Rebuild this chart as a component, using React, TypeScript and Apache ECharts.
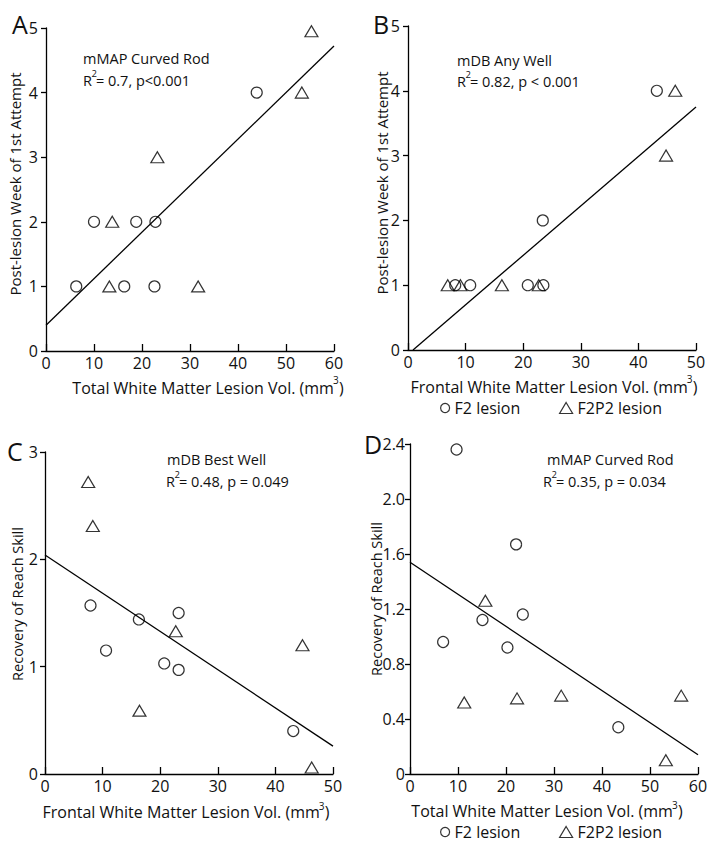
import React, { useEffect, useRef } from "react";
import * as echarts from "echarts";

// ---- Data ----
// Panel A: Total WM lesion vol vs post-lesion week of 1st attempt (mMAP Curved Rod)
const aF2 = [[6.3, 1], [10.0, 2], [16.3, 1], [18.8, 2], [22.8, 2], [22.6, 1], [43.9, 4]];
const aF2P2 = [[13.2, 1], [13.8, 2], [23.2, 3], [31.7, 1], [53.3, 4], [55.3, 4.95]];
const aFit = [[0, 0.4], [60, 4.72]];
// Panel B: Frontal WM lesion vol vs post-lesion week of 1st attempt (mDB Any Well)
const bF2 = [[8.2, 1], [10.8, 1], [20.8, 1], [23.5, 1], [23.4, 2], [43.2, 4]];
const bF2P2 = [[6.9, 1], [9.1, 1], [16.3, 1], [22.7, 1], [44.8, 3], [46.4, 4]];
const bFit = [[0.87, 0], [50, 3.75]];
// Panel C: Frontal WM lesion vol vs recovery of reach skill (mDB Best Well)
const cF2 = [[7.9, 1.57], [10.6, 1.15], [16.3, 1.44], [20.7, 1.03], [23.2, 1.5], [23.2, 0.97], [43.1, 0.4]];
const cF2P2 = [[7.5, 2.72], [8.3, 2.31], [22.7, 1.33], [16.4, 0.59], [44.7, 1.2], [46.3, 0.06]];
const cFit = [[0, 2.04], [50, 0.26]];
// Panel D: Total WM lesion vol vs recovery of reach skill (mMAP Curved Rod)
const dF2 = [[9.7, 2.36], [22.1, 1.67], [6.9, 0.96], [15.1, 1.12], [23.5, 1.16], [20.3, 0.92], [43.4, 0.34]];
const dF2P2 = [[15.7, 1.26], [11.3, 0.52], [22.3, 0.55], [31.5, 0.57], [56.5, 0.57], [53.3, 0.1]];
const dFit = [[0, 1.54], [60, 0.14]];

const xTitleTotal = "Total White Matter Lesion Vol. (mm";
const xTitleFrontal = "Frontal White Matter Lesion Vol. (mm";
const yTitleWeek = "Post-lesion Week of 1st Attempt";
const yTitleRecovery = "Recovery of Reach Skill";
const seriesNames = ["F2 lesion", "F2P2 lesion"];
const statsA = ["mMAP Curved Rod", "= 0.7, p<0.001"];
const statsB = ["mDB Any Well", "= 0.82, p < 0.001"];
const statsC = ["mDB Best Well", "= 0.48, p = 0.049"];
const statsD = ["mMAP Curved Rod", "= 0.35, p = 0.034"];

const FONT = "'Open Sans', 'Noto Sans', sans-serif";
const INK = "#111";

let measureCtx: CanvasRenderingContext2D | null = null;
function measure(text: string, size: number) {
  if (!measureCtx) measureCtx = document.createElement("canvas").getContext("2d");
  if (!measureCtx) return text.length * size * 0.55;
  measureCtx.font = `${size}px 'Open Sans'`;
  return measureCtx.measureText(text).width;
}

export default function App() {
  const ref = useRef<HTMLDivElement>(null);

  useEffect(() => {
    document.body.style.margin = "0";
    if (!ref.current) return;
    const chart = echarts.init(ref.current, undefined, { renderer: "svg" });

    const axisLine = { show: true, lineStyle: { color: "#000", width: 1.3 } };

    const grids = [
      { left: 46, top: 28, width: 288, height: 323 },
      { left: 408, top: 26, width: 288, height: 324 },
      { left: 45, top: 452, width: 288, height: 322 },
      { left: 410, top: 444, width: 288, height: 330 },
    ];

    const mkX = (gi: number, max: number) => ({
      type: "value",
      gridIndex: gi,
      min: 0,
      max,
      interval: 10,
      axisLine,
      axisTick: { show: true, inside: true, length: 7, lineStyle: { color: "#000", width: 1.3 } },
      axisLabel: { fontSize: 16, lineHeight: 16, fontFamily: FONT, color: INK, margin: 4 },
      splitLine: { show: false },
    });

    const mkY = (gi: number, max: number, interval: number, dec: boolean, margin: number) => ({
      type: "value",
      gridIndex: gi,
      min: 0,
      max,
      interval,
      axisLine,
      axisTick: { show: true, inside: false, length: 5, lineStyle: { color: "#000", width: 1.3 } },
      axisLabel: {
        fontSize: 16,
        lineHeight: 16,
        fontFamily: FONT,
        color: INK,
        margin,
        formatter: (v: number) => (v === 0 ? "0" : dec ? v.toFixed(1) : String(v)),
      },
      splitLine: { show: false },
    });

    const markerStyle = { color: "transparent", borderColor: "#000", borderWidth: 1.2 };
    const mkScatter = (gi: number, name: string, data: number[][], tri: boolean) => ({
      type: "scatter",
      name,
      xAxisIndex: gi,
      yAxisIndex: gi,
      data,
      symbol: tri ? "triangle" : "circle",
      symbolSize: tri ? [13, 11] : 11,
      itemStyle: markerStyle,
      emphasis: { disabled: true },
    });
    const mkFit = (gi: number, data: number[][]) => ({
      type: "line",
      xAxisIndex: gi,
      yAxisIndex: gi,
      data,
      showSymbol: false,
      symbol: "none",
      lineStyle: { color: "#000", width: 1.3 },
      silent: true,
    });

    const txt = (x: number, y: number, text: string, size = 14.5) => ({
      type: "text",
      x,
      y,
      silent: true,
      style: {
        text,
        fontSize: size,
        lineHeight: size,
        fontFamily: FONT,
        fill: INK,
        verticalAlign: "middle",
        align: "left",
      },
    });

    // Two-line annotation with R^2 superscript
    const stats = (x1: number, y1: number, x2: number, y2: number, lines: string[]) => {
      const size = 14.5;
      const wR = measure("R", size);
      return [
        txt(x1, y1, lines[0], size),
        txt(x2, y2, "R", size),
        txt(x2 + wR - 0.5, y2 - 6.5, "2", 9.5),
        txt(x2 + wR + 4, y2, lines[1], size),
      ];
    };

    // X axis title with (mm^3)
    const xTitle = (cx: number, cy: number, main: string, supDy: number) => {
      const size = 16;
      const wMain = measure(main, size);
      const wClose = measure(")", size);
      const W = wMain + 5 + wClose;
      const L = cx - W / 2;
      return [
        txt(L, cy, main, size),
        txt(L + wMain - 1, cy + supDy, "3", 10),
        txt(L + wMain + 5, cy, ")", size),
      ];
    };

    const yTitle = (cx: number, cy: number, text: string, size: number) => ({
      type: "text",
      x: cx,
      y: cy,
      rotation: Math.PI / 2,
      silent: true,
      style: { text, fontSize: size, fontFamily: FONT, fill: INK, align: "center", verticalAlign: "middle" },
    });

    const letter = (x: number, y: number, text: string) => txt(x, y, text, 25);

    const legendItem = (left: number, top: number, name: string, icon: string, w: number, h: number) => ({
      left,
      top,
      orient: "horizontal",
      itemWidth: w,
      itemHeight: h,
      itemGap: 0,
      padding: 0,
      textStyle: { fontSize: 16, lineHeight: 16, fontFamily: FONT, color: INK },
      itemStyle: { color: "transparent", borderColor: "#000", borderWidth: 1.2 },
      selectedMode: false,
      data: [{ name, icon }],
    });

    chart.setOption({
      animation: false,
      backgroundColor: "#fff",
      grid: grids,
      xAxis: [mkX(0, 60), mkX(1, 50), mkX(2, 50), mkX(3, 60)],
      yAxis: [
        mkY(0, 5, 1, false, 8),
        mkY(1, 5, 1, false, 8),
        mkY(2, 3, 1, false, 7),
        mkY(3, 2.4, 0.4, true, 5),
      ],
      legend: [
        legendItem(440, 400, seriesNames[0], "circle", 9, 9),
        legendItem(559, 400, seriesNames[1], "triangle", 13, 11),
        legendItem(440, 824, seriesNames[0], "circle", 9, 9),
        legendItem(559, 824, seriesNames[1], "triangle", 13, 11),
      ],
      series: [
        mkScatter(0, seriesNames[0], aF2, false),
        mkScatter(0, seriesNames[1], aF2P2, true),
        mkFit(0, aFit),
        mkScatter(1, seriesNames[0], bF2, false),
        mkScatter(1, seriesNames[1], bF2P2, true),
        mkFit(1, bFit),
        mkScatter(2, seriesNames[0], cF2, false),
        mkScatter(2, seriesNames[1], cF2P2, true),
        mkFit(2, cFit),
        mkScatter(3, seriesNames[0], dF2, false),
        mkScatter(3, seriesNames[1], dF2P2, true),
        mkFit(3, dFit),
      ],
      graphic: [
        letter(12, 24, "A"),
        letter(373, 24, "B"),
        letter(7, 451, "C"),
        letter(364, 444, "D"),
        ...stats(83, 58, 83, 80, statsA),
        ...stats(457, 60, 457, 81, statsB),
        ...stats(167, 459.5, 166, 481, statsC),
        ...stats(547, 459, 543, 481, statsD),
        ...xTitle(208, 388, xTitleTotal, -8),
        ...xTitle(554, 387, xTitleFrontal, -8),
        ...xTitle(186, 812, xTitleFrontal, -6),
        ...xTitle(547, 811, xTitleTotal, -6),
        yTitle(15, 184, yTitleWeek, 15),
        yTitle(382, 183, yTitleWeek, 15),
        yTitle(17, 604, yTitleRecovery, 14.5),
        yTitle(376, 599, yTitleRecovery, 14.5),
      ],
    });

    return () => chart.dispose();
  }, []);

  return <div ref={ref} style={{ width: 714, height: 849 }} />;
}
